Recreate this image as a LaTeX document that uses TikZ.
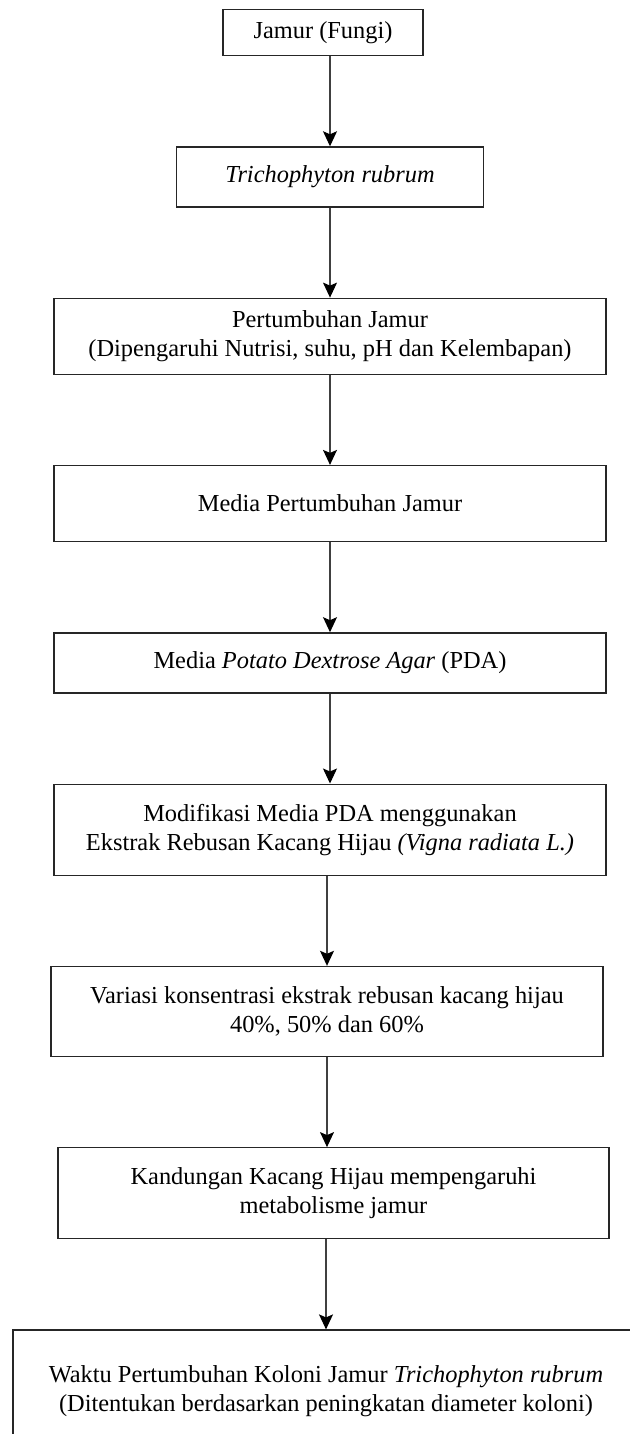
\documentclass[tikz,border=0pt]{standalone}
\usepackage{fontspec}
\setmainfont{Liberation Serif}
\usetikzlibrary{positioning, arrows.meta}
\tikzset{stepbox/.style = {rectangle, draw=black!85, line width=0.65pt, align=center,
    inner sep=0pt, font=\fontsize{12.2}{14.5}\selectfont}}
\tikzset{flow/.style = {draw=black!75, line width=0.6pt,
    -{Stealth[length=7.5pt, width=7pt, inset=1.5pt, color=black]}}}

\begin{document}
\begin{tikzpicture}[node distance=45pt]
      \useasboundingbox (0,0) rectangle (314.5pt,-717pt);

      \node[stepbox, minimum width=100pt, minimum height=23pt, anchor=north]
        (jamur) at (161.5pt,-4.5pt) {Jamur (Fungi)};

      \node[stepbox, minimum width=153.3pt, minimum height=30pt]
        (trico) [below = of jamur, xshift=3.5pt] {\textit{Trichophyton rubrum}};

      \node[stepbox, minimum width=276pt, minimum height=38pt]
        (tumbuh) [below = of trico]
        {Pertumbuhan Jamur\\(Dipengaruhi Nutrisi, suhu, pH dan Kelembapan)};

      \node[stepbox, minimum width=276pt, minimum height=38pt]
        (media) [below = of tumbuh] {Media Pertumbuhan Jamur};

      \node[stepbox, minimum width=276pt, minimum height=30pt]
        (pda) [below = of media]
        {Media \textit{Potato Dextrose Agar} (PDA)};

      \node[stepbox, minimum width=276pt, minimum height=45.5pt]
        (modif) [below = of pda]
        {Modifikasi Media PDA menggunakan\\Ekstrak Rebusan Kacang Hijau \textit{(Vigna radiata L.)}};

      \node[stepbox, minimum width=276pt, minimum height=45pt]
        (variasi) [below = of modif, xshift=-1.5pt]
        {Variasi konsentrasi ekstrak rebusan kacang hijau\\40\%, 50\% dan 60\%};

      \node[stepbox, minimum width=275.5pt, minimum height=45.5pt]
        (kandungan) [below = of variasi, xshift=3.25pt]
        {Kandungan Kacang Hijau mempengaruhi\\metabolisme jamur};

      \node[stepbox, minimum width=313pt, minimum height=61.5pt]
        (waktu) [below = of kandungan, xshift=-3.75pt]
        {Waktu Pertumbuhan Koloni Jamur \textit{Trichophyton rubrum}\\(Ditentukan berdasarkan peningkatan diameter koloni)};

      \draw[flow] (jamur.south -| trico.north) -- (trico.north);
      \draw[flow] (trico) -- (tumbuh);
      \draw[flow] (tumbuh) -- (media);
      \draw[flow] (media) -- (pda);
      \draw[flow] (pda) -- (modif);
      \draw[flow] (modif.south -| variasi.north) -- (variasi.north);
      \draw[flow] (variasi.south) -- (variasi.south |- kandungan.north);
      \draw[flow] (kandungan.south -| waktu.north) -- (waktu.north);
\end{tikzpicture}
\end{document}
